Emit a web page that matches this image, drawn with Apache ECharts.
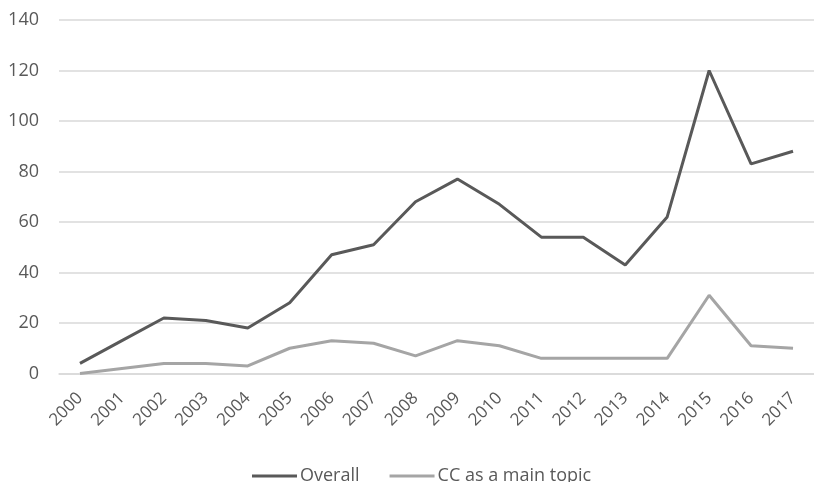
<!DOCTYPE html>
<html><head><meta charset="utf-8">
<script src="https://cdn.jsdelivr.net/npm/echarts@6/dist/echarts.min.js"></script>
<style>html,body{margin:0;padding:0;background:#fff}#c{width:814px;height:482px}</style>
</head><body><div id="c"></div>
<script>
const years = ['2000','2001','2002','2003','2004','2005','2006','2007','2008','2009','2010','2011','2012','2013','2014','2015','2016','2017'];
const overall = [4,13,22,21,18,28,47,51,68,77,67,54,54,43,62,120,83,88];
const ccMain = [0,2,4,4,3,10,13,12,7,13,11,6,6,6,6,31,11,10];
const seriesNames = ['Overall','CC as a main topic'];
const font = "'Open Sans',sans-serif";
const chart = echarts.init(document.getElementById('c'));
chart.setOption({
  animation:false,
  grid:{left:59, top:20, width:761, height:353.5},
  legend:{top:462, left:247, itemWidth:45, itemHeight:3, itemGap:30, icon:'rect',
    textStyle:{color:'#595959', fontSize:18, fontFamily:font, padding:[0,0,0,-2]},
    data:seriesNames},
  xAxis:{type:'category', data:years, boundaryGap:true,
    axisLine:{lineStyle:{color:'#d9d9d9', width:1.5}}, axisTick:{show:false},
    axisLabel:{rotate:45, color:'#595959', fontSize:17, fontFamily:font, margin:22, interval:0}},
  yAxis:{type:'value', min:0, max:140, interval:20,
    axisLine:{show:false}, axisTick:{show:false},
    splitLine:{lineStyle:{color:'#d9d9d9', width:1.5}},
    axisLabel:{color:'#595959', fontSize:18, fontFamily:font, margin:20}},
  series:[
    {name:seriesNames[0], type:'line', data:overall, symbol:'none', lineStyle:{color:'#595959', width:3}, itemStyle:{color:'#595959'}},
    {name:seriesNames[1], type:'line', data:ccMain, symbol:'none', lineStyle:{color:'#a5a5a5', width:3}, itemStyle:{color:'#a5a5a5'}}
  ]
});
</script></body></html>
